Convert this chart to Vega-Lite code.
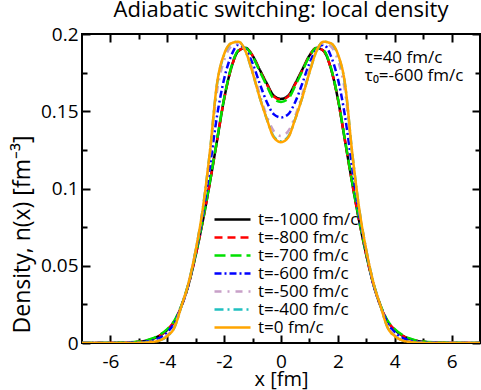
{
  "$schema": "https://vega.github.io/schema/vega-lite/v6.json",
  "width": 398,
  "height": 309,
  "autosize": "none",
  "padding": {"left": 82, "top": 34, "right": 1, "bottom": 47},
  "title": {"text": "Adiabatic switching: local density", "fontSize": 22, "fontWeight": "normal", "font": "Open Sans", "anchor": "middle", "frame": "group", "baseline": "alphabetic", "offset": -14, "color": "black"},
  "config": {"view": {"stroke": "black", "strokeWidth": 2}, "font": "Open Sans"},
  "resolve": {"axis": {"x": "independent", "y": "independent"}},
  "layer": [
    {
      "data": {"values": [
        {"x": -7, "m1000": 0, "m800": 0, "m700": 0, "m600": 0, "m500": 0, "m400": 0, "t0": 0},
        {"x": -6, "m1000": 0.00005, "m800": 0.00005, "m700": 0.0001, "m600": 0, "m500": 0, "m400": 0, "t0": 0},
        {"x": -5.5, "m1000": 0.0002, "m800": 0.0002, "m700": 0.0003, "m600": 0.0001, "m500": 0, "m400": 0, "t0": 0},
        {"x": -5, "m1000": 0.0008, "m800": 0.0008, "m700": 0.0009, "m600": 0.0004, "m500": 0.0001, "m400": 0.0001, "t0": 0.0001},
        {"x": -4.75, "m1000": 0.0015, "m800": 0.0015, "m700": 0.0017, "m600": 0.0008, "m500": 0.0004, "m400": 0.0003, "t0": 0.0003},
        {"x": -4.5, "m1000": 0.0028, "m800": 0.0028, "m700": 0.0031, "m600": 0.0018, "m500": 0.001, "m400": 0.0007, "t0": 0.0007},
        {"x": -4.25, "m1000": 0.005, "m800": 0.005, "m700": 0.0055, "m600": 0.0035, "m500": 0.0022, "m400": 0.0018, "t0": 0.0018},
        {"x": -4, "m1000": 0.0085, "m800": 0.0085, "m700": 0.009, "m600": 0.007, "m500": 0.005, "m400": 0.0045, "t0": 0.0045},
        {"x": -3.75, "m1000": 0.014, "m800": 0.014, "m700": 0.0145, "m600": 0.013, "m500": 0.011, "m400": 0.01, "t0": 0.01},
        {"x": -3.5, "m1000": 0.024, "m800": 0.024, "m700": 0.0245, "m600": 0.024, "m500": 0.024, "m400": 0.024, "t0": 0.024},
        {"x": -3.25, "m1000": 0.038, "m800": 0.038, "m700": 0.0385, "m600": 0.038, "m500": 0.039, "m400": 0.039, "t0": 0.039},
        {"x": -3, "m1000": 0.057, "m800": 0.057, "m700": 0.0575, "m600": 0.059, "m500": 0.06, "m400": 0.06, "t0": 0.06},
        {"x": -2.75, "m1000": 0.079, "m800": 0.079, "m700": 0.0795, "m600": 0.083, "m500": 0.086, "m400": 0.087, "t0": 0.087},
        {"x": -2.5, "m1000": 0.104, "m800": 0.104, "m700": 0.1045, "m600": 0.114, "m500": 0.122, "m400": 0.124, "t0": 0.124},
        {"x": -2.25, "m1000": 0.131, "m800": 0.131, "m700": 0.1315, "m600": 0.147, "m500": 0.163, "m400": 0.1675, "t0": 0.168},
        {"x": -2, "m1000": 0.158, "m800": 0.158, "m700": 0.1585, "m600": 0.171, "m500": 0.183, "m400": 0.1865, "t0": 0.187},
        {"x": -1.75, "m1000": 0.178, "m800": 0.178, "m700": 0.1785, "m600": 0.186, "m500": 0.192, "m400": 0.194, "t0": 0.194},
        {"x": -1.5, "m1000": 0.189, "m800": 0.189, "m700": 0.1895, "m600": 0.193, "m500": 0.194, "m400": 0.195, "t0": 0.195},
        {"x": -1.25, "m1000": 0.191, "m800": 0.191, "m700": 0.191, "m600": 0.19, "m500": 0.189, "m400": 0.189, "t0": 0.189},
        {"x": -1, "m1000": 0.186, "m800": 0.186, "m700": 0.1855, "m600": 0.181, "m500": 0.177, "m400": 0.175, "t0": 0.175},
        {"x": -0.75, "m1000": 0.177, "m800": 0.1765, "m700": 0.176, "m600": 0.168, "m500": 0.161, "m400": 0.159, "t0": 0.159},
        {"x": -0.5, "m1000": 0.168, "m800": 0.1675, "m700": 0.1665, "m600": 0.156, "m500": 0.147, "m400": 0.145, "t0": 0.145},
        {"x": -0.25, "m1000": 0.16, "m800": 0.1595, "m700": 0.158, "m600": 0.148, "m500": 0.137, "m400": 0.1335, "t0": 0.133},
        {"x": 0, "m1000": 0.158, "m800": 0.1575, "m700": 0.156, "m600": 0.146, "m500": 0.134, "m400": 0.1305, "t0": 0.13},
        {"x": 0.25, "m1000": 0.16, "m800": 0.1595, "m700": 0.158, "m600": 0.148, "m500": 0.137, "m400": 0.1335, "t0": 0.133},
        {"x": 0.5, "m1000": 0.168, "m800": 0.1675, "m700": 0.1665, "m600": 0.156, "m500": 0.147, "m400": 0.145, "t0": 0.145},
        {"x": 0.75, "m1000": 0.177, "m800": 0.1765, "m700": 0.176, "m600": 0.168, "m500": 0.161, "m400": 0.159, "t0": 0.159},
        {"x": 1, "m1000": 0.186, "m800": 0.186, "m700": 0.1855, "m600": 0.181, "m500": 0.177, "m400": 0.175, "t0": 0.175},
        {"x": 1.25, "m1000": 0.191, "m800": 0.191, "m700": 0.191, "m600": 0.19, "m500": 0.189, "m400": 0.189, "t0": 0.189},
        {"x": 1.5, "m1000": 0.189, "m800": 0.189, "m700": 0.1895, "m600": 0.193, "m500": 0.194, "m400": 0.195, "t0": 0.195},
        {"x": 1.75, "m1000": 0.178, "m800": 0.178, "m700": 0.1785, "m600": 0.186, "m500": 0.192, "m400": 0.194, "t0": 0.194},
        {"x": 2, "m1000": 0.158, "m800": 0.158, "m700": 0.1585, "m600": 0.171, "m500": 0.183, "m400": 0.1865, "t0": 0.187},
        {"x": 2.25, "m1000": 0.131, "m800": 0.131, "m700": 0.1315, "m600": 0.147, "m500": 0.163, "m400": 0.1675, "t0": 0.168},
        {"x": 2.5, "m1000": 0.104, "m800": 0.104, "m700": 0.1045, "m600": 0.114, "m500": 0.122, "m400": 0.124, "t0": 0.124},
        {"x": 2.75, "m1000": 0.079, "m800": 0.079, "m700": 0.0795, "m600": 0.083, "m500": 0.086, "m400": 0.087, "t0": 0.087},
        {"x": 3, "m1000": 0.057, "m800": 0.057, "m700": 0.0575, "m600": 0.059, "m500": 0.06, "m400": 0.06, "t0": 0.06},
        {"x": 3.25, "m1000": 0.038, "m800": 0.038, "m700": 0.0385, "m600": 0.038, "m500": 0.039, "m400": 0.039, "t0": 0.039},
        {"x": 3.5, "m1000": 0.024, "m800": 0.024, "m700": 0.0245, "m600": 0.024, "m500": 0.024, "m400": 0.024, "t0": 0.024},
        {"x": 3.75, "m1000": 0.014, "m800": 0.014, "m700": 0.0145, "m600": 0.013, "m500": 0.011, "m400": 0.01, "t0": 0.01},
        {"x": 4, "m1000": 0.0085, "m800": 0.0085, "m700": 0.009, "m600": 0.007, "m500": 0.005, "m400": 0.0045, "t0": 0.0045},
        {"x": 4.25, "m1000": 0.005, "m800": 0.005, "m700": 0.0055, "m600": 0.0035, "m500": 0.0022, "m400": 0.0018, "t0": 0.0018},
        {"x": 4.5, "m1000": 0.0028, "m800": 0.0028, "m700": 0.0031, "m600": 0.0018, "m500": 0.001, "m400": 0.0007, "t0": 0.0007},
        {"x": 4.75, "m1000": 0.0015, "m800": 0.0015, "m700": 0.0017, "m600": 0.0008, "m500": 0.0004, "m400": 0.0003, "t0": 0.0003},
        {"x": 5, "m1000": 0.0008, "m800": 0.0008, "m700": 0.0009, "m600": 0.0004, "m500": 0.0001, "m400": 0.0001, "t0": 0.0001},
        {"x": 5.5, "m1000": 0.0002, "m800": 0.0002, "m700": 0.0003, "m600": 0.0001, "m500": 0, "m400": 0, "t0": 0},
        {"x": 6, "m1000": 0.00005, "m800": 0.00005, "m700": 0.0001, "m600": 0, "m500": 0, "m400": 0, "t0": 0},
        {"x": 7, "m1000": 0, "m800": 0, "m700": 0, "m600": 0, "m500": 0, "m400": 0, "t0": 0}
      ]},
      "transform": [{"fold": ["m1000", "m800", "m700", "m600", "m500", "m400", "t0"], "as": ["t", "n"]}],
      "mark": {"type": "line", "interpolate": "monotone", "clip": true},
      "encoding": {
        "x": {"field": "x", "type": "quantitative", "scale": {"domain": [-7, 7], "nice": false, "zero": false},
          "axis": {"orient": "bottom", "values": [-6, -5, -4, -3, -2, -1, 0, 1, 2, 3, 4, 5, 6],
            "labelExpr": "datum.value % 2 == 0 ? '' + datum.value : ''",
            "tickSize": {"condition": {"test": "datum.value % 2 == 0", "value": -8}, "value": -5},
            "tickWidth": 2, "tickColor": "black", "domain": false, "grid": false,
            "labelFontSize": 19, "labelColor": "black", "labelPadding": 17, "labelFlush": false, "labelOverlap": false,
            "title": "x [fm]", "titleFontSize": 20, "titleFontWeight": "normal", "titleColor": "black", "titleBaseline": "alphabetic", "titleY": 42}},
        "y": {"field": "n", "type": "quantitative", "scale": {"domain": [0, 0.2], "nice": false},
          "axis": {"orient": "left", "values": [0, 0.025, 0.05, 0.075, 0.1, 0.125, 0.15, 0.175, 0.2],
            "labelExpr": "round(datum.value * 1000) % 50 == 0 ? '' + datum.value : ''",
            "tickSize": {"condition": {"test": "round(datum.value * 1000) % 50 == 0", "value": -8}, "value": -5},
            "tickWidth": 2, "tickColor": "black", "domain": false, "grid": false,
            "labelFontSize": 19, "labelColor": "black", "labelPadding": 12, "labelFlush": false, "labelOverlap": false,
            "title": "Density, n(x) [fm⁻³]", "titleFontSize": 23, "titleFontWeight": "normal", "titleColor": "black", "titleBaseline": "alphabetic", "titleX": -53, "titleY": 200}},
        "color": {"field": "t", "type": "nominal",
          "scale": {"domain": ["m1000", "m800", "m700", "m600", "m500", "m400", "t0"], "range": ["#000000", "#ff0000", "#00e000", "#0000ff", "#c8a0c8", "#20c0c0", "#ffa500"]},
          "legend": {"title": null, "orient": "none", "legendX": 131, "legendY": 177, "padding": 0, "symbolType": "stroke", "symbolSize": 1296, "symbolStrokeWidth": 2.5, "labelFontSize": 17, "labelColor": "black", "labelOffset": 6, "rowPadding": 0, "clipHeight": 17,
            "labelExpr": "datum.label == 't0' ? 't=0 fm/c' : 't=-' + substring(datum.label, 1) + ' fm/c'"}},
        "strokeDash": {"field": "t", "type": "nominal",
          "scale": {"domain": ["m1000", "m800", "m700", "m600", "m500", "m400", "t0"], "range": [[1, 0], [8, 5], [11, 5], [7, 3, 2, 3], [7, 6, 2, 6], [9, 4, 2, 4], [1, 0]]},
          "legend": {"title": null, "orient": "none", "legendX": 131, "legendY": 177, "padding": 0, "symbolType": "stroke", "symbolSize": 1296, "symbolStrokeWidth": 2.5, "labelFontSize": 17, "labelColor": "black", "labelOffset": 6, "rowPadding": 0, "clipHeight": 17,
            "labelExpr": "datum.label == 't0' ? 't=0 fm/c' : 't=-' + substring(datum.label, 1) + ' fm/c'"}},
        "strokeWidth": {"field": "t", "type": "nominal",
          "scale": {"domain": ["m1000", "m800", "m700", "m600", "m500", "m400", "t0"], "range": [2.5, 2.5, 2.5, 2.5, 2.5, 2.5, 3]},
          "legend": {"title": null, "orient": "none", "legendX": 131, "legendY": 177, "padding": 0, "symbolType": "stroke", "symbolSize": 1296, "labelFontSize": 17, "labelColor": "black", "labelOffset": 6, "rowPadding": 0, "clipHeight": 17,
            "labelExpr": "datum.label == 't0' ? 't=0 fm/c' : 't=-' + substring(datum.label, 1) + ' fm/c'"}}
      }
    },
    {
      "data": {"values": [{}]},
      "mark": {"type": "text", "text": ["τ=40 fm/c", "τ₀=-600 fm/c"], "align": "left", "baseline": "alphabetic", "fontSize": 17, "lineHeight": 18, "font": "Open Sans", "color": "black"},
      "encoding": {
        "x": {"datum": 2.95, "type": "quantitative", "scale": {"domain": [-7, 7], "nice": false, "zero": false},
          "axis": {"orient": "top", "values": [-6, -5, -4, -3, -2, -1, 0, 1, 2, 3, 4, 5, 6], "labels": false, "title": null,
            "tickSize": {"condition": {"test": "datum.value % 2 == 0", "value": -8}, "value": -5},
            "tickWidth": 2, "tickColor": "black", "domain": false, "grid": false}},
        "y": {"datum": 0.181, "type": "quantitative", "scale": {"domain": [0, 0.2], "nice": false},
          "axis": {"orient": "right", "values": [0, 0.025, 0.05, 0.075, 0.1, 0.125, 0.15, 0.175, 0.2], "labels": false, "title": null,
            "tickSize": {"condition": {"test": "round(datum.value * 1000) % 50 == 0", "value": -8}, "value": -5},
            "tickWidth": 2, "tickColor": "black", "domain": false, "grid": false}}
      }
    }
  ]
}
